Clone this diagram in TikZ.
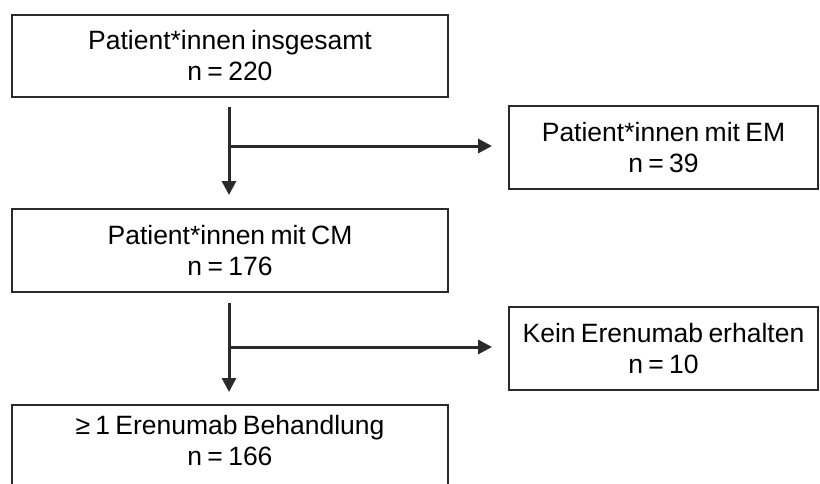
\documentclass[tikz,border=0pt]{standalone}
\usepackage{fontspec}
\setmainfont{Liberation Sans}
\usetikzlibrary{arrows.meta,calc}
\definecolor{ln}{HTML}{2A2A2A}
\newcommand{\boxfont}{\fontsize{26.5}{31}\selectfont\spaceskip=0.2em plus 0.05em}
\begin{document}
\begin{tikzpicture}[x=1pt,y=1pt,
  box/.style={draw=ln,line width=1.5pt,rectangle,align=center,inner sep=0pt,
    font=\boxfont,text=black},
  arr/.style={draw=ln,line width=3pt,-{Triangle[length=14pt,width=14pt]}}]
\useasboundingbox (0,0) rectangle (820,-483);
\node[box,minimum width=436pt,minimum height=82pt] (b1) at (230,-56) {Patient*innen insgesamt\\n = 220};
\node[box,minimum width=436pt,minimum height=83pt] (b2) at (230,-250.5) {Patient*innen mit CM\\n = 176};
\node[box,minimum width=436pt,minimum height=84pt] (b3) at (230,-447) {};
\node[font=\boxfont,align=center,text=black,inner sep=0pt] (t3) at (230,-441) {≥ 1 Erenumab Behandlung\\n = 166};
\node[box,minimum width=309pt,minimum height=83pt] (r1) at (663.5,-147.5) {Patient*innen mit EM\\n = 39};
\node[box,minimum width=309pt,minimum height=83pt] (r2) at (663.5,-348.5) {Kein Erenumab erhalten\\n = 10};
\coordinate (s1) at (229,-107);
\coordinate (j1) at (229,-146);
\coordinate (e1) at (229,-195);
\coordinate (h1) at (492,-146);
\coordinate (s2) at (229,-303);
\coordinate (j2) at (229,-347);
\coordinate (e2) at (229,-392);
\coordinate (h2) at (492,-347);
\draw[arr] (s1) -- (e1);
\draw[arr] (j1) -- (h1);
\draw[arr] (s2) -- (e2);
\draw[arr] (j2) -- (h2);
\end{tikzpicture}
\end{document}
